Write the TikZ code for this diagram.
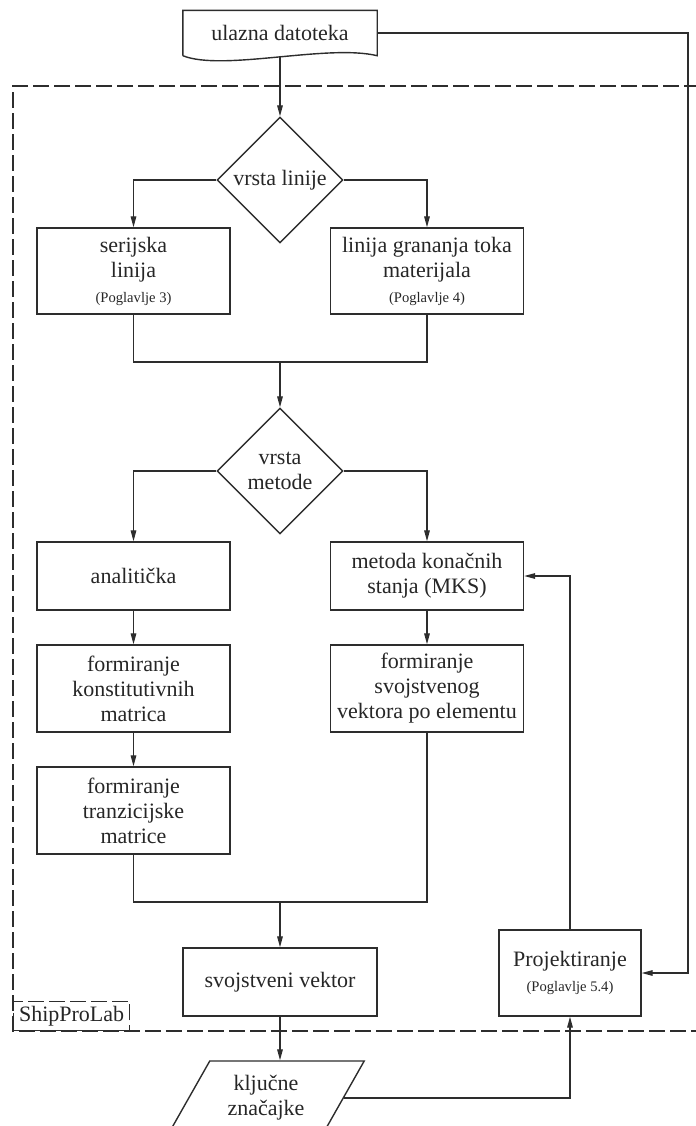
\documentclass[tikz,border=0pt]{standalone}
\usepackage{fontspec}
\setmainfont{Liberation Serif}
\usepackage{tikz}
\usetikzlibrary{arrows.meta,shapes.geometric}
\definecolor{inkgray}{RGB}{45,45,45}

\begin{document}
\begin{tikzpicture}[x=0.5pt,y=-0.5pt,
      block/.style={rectangle,draw=inkgray,line width=0.7pt,minimum width=96.5pt,
        align=center,inner sep=1pt,text=black!85,font=\fontsize{11}{12.5}\selectfont},
      decision/.style={diamond,draw=inkgray,line width=0.7pt,aspect=1,minimum size=63pt,
        inner sep=0pt,align=center,text=black!85,font=\fontsize{11}{12.5}\selectfont},
      frame/.style={draw=inkgray,line width=0.6pt,dash pattern=on 8pt off 2.5pt},
      >={Triangle[length=5.5pt,width=2.8pt]},line width=0.6pt,draw=inkgray
    ]
    \useasboundingbox (0,0) rectangle (696,1126);

    % ShipProLab frame
    \draw[frame] (700,86) -- (13,86) -- (13,1031) -- (700,1031);
    \node[block,frame,anchor=south west,minimum width=58pt,minimum height=14.5pt] (tag) at (13,1031) {ShipProLab};

    \node[block,draw=none,minimum height=22pt] (in) at (280,33) {ulazna datoteka};
    \draw[line width=0.7pt] (in.south west) -- (in.north west) -- (in.north east) -- (in.south east)
      .. controls +(-50,-12) and +(40,16) .. (in.south west);

    \node[decision] (typ) at (280,180) {vrsta linije};
    \node[block,minimum height=43pt] (ser) at (133.5,271) {serijska\\linija\\{\fontsize{7.3}{9}\selectfont (Poglavlje 3)}};
    \node[block,minimum height=43pt] (gra) at (427,271) {linija grananja toka\\materijala\\{\fontsize{7.3}{9}\selectfont (Poglavlje 4)}};
    \coordinate (j1) at (280,362);

    \node[decision] (met) at (280,471) {vrsta\\metode};
    \node[block,minimum height=34pt] (ana) at (133.5,576) {analitička};
    \node[block,minimum height=34pt] (mks) at (427,576) {metoda konačnih\\stanja (MKS)};
    \node[block,minimum height=43.5pt] (kon) at (133.5,688.5) {formiranje\\konstitutivnih\\matrica};
    \node[block,minimum height=43.5pt] (vel) at (427,688.5) {formiranje\\svojstvenog\\vektora po elementu};
    \node[block,minimum height=43.5pt] (tra) at (133.5,810.5) {formiranje\\tranzicijske\\matrice};
    \coordinate (j2) at (280,902);

    \node[block,minimum width=97pt,minimum height=34pt] (vec) at (280,982) {svojstveni vektor};
    \node[block,minimum width=71pt,minimum height=43pt] (proj) at (570,973) {Projektiranje\\{\fontsize{7.3}{9}\selectfont (Poglavlje 5.4)}};
    \node[trapezium,trapezium left angle=60,trapezium right angle=120,trapezium stretches=true,
      draw=inkgray,line width=0.7pt,minimum width=99pt,minimum height=37pt,align=center,
      text=black!85,font=\fontsize{11}{12.5}\selectfont] (key) at (266,1098) {ključne\\značajke};
    \coordinate (rail) at (688,33);

    \draw[->] (in.south) -- (typ.north);
    \draw[->] (typ.west) -| (ser.north);
    \draw[->] (typ.east) -| (gra.north);
    \draw (ser.south) |- (j1);
    \draw (gra.south) |- (j1);
    \draw[->] (j1) -- (met.north);
    \draw[->] (met.west) -| (ana.north);
    \draw[->] (met.east) -| (mks.north);
    \draw[->] (ana) -- (kon);
    \draw[->] (kon) -- (tra);
    \draw[->] (mks) -- (vel);
    \draw (tra.south) |- (j2);
    \draw (vel.south) |- (j2);
    \draw[->] (j2) -- (vec.north);
    \draw[->] (vec.south) -- (vec.south |- key.north);
    \draw[->] (key.east) -| (proj.south);
    \draw[->] (proj.north) |- (mks.east);
    \draw[->] (in.east) -- (rail) |- (proj.east);
  \end{tikzpicture}
\end{document}
